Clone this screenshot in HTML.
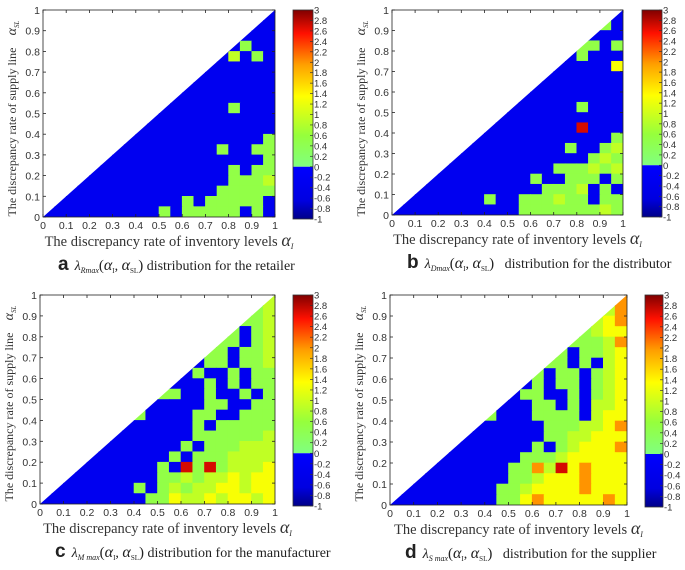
<!DOCTYPE html>
<html><head><meta charset="utf-8"><style>
html,body{margin:0;padding:0;background:#fff;}
svg{display:block;}
</style></head><body>
<svg id="fig" width="685" height="570" xmlns="http://www.w3.org/2000/svg"></svg>
<script>
// value represented by each code in the grids
const codeValues = [-0.5, 0.5, 0.9, 1.3, 2.0, 2.7];
const xTicks = [0,0.1,0.2,0.3,0.4,0.5,0.6,0.7,0.8,0.9,1];
const yTicks = [0,0.1,0.2,0.3,0.4,0.5,0.6,0.7,0.8,0.9,1];
const cbTicks = [3,2.8,2.6,2.4,2.2,2,1.8,1.6,1.4,1.2,1,0.8,0.6,0.4,0.2,0,-0.2,-0.4,-0.6,-0.8,-1];
// rows from alpha_SL 0.95-1 (top) down to 0-0.05; columns alpha_I 0..0.95
const gridA = ["00000000000000000000","00000000000000000000","00000000000000000000","00000000000000000100","00000000000000002010","00000000000000000000","00000000000000000000","00000000000000000000","00000000000000000000","00000000000000001000","00000000000000000000","00000000000000000000","00000000000000000001","00000000000000010011","00000000000000000001","00000000000000001011","00000000000000001112","00000000000000011111","00000000000010111110","00000000001011111010"];
const gridB = ["00000000000000000000","00000000000000000010","00000000000000000000","00000000000000001101","00000000000000001000","00000000000000000003","00000000000000000000","00000000000000000000","00000000000000000000","00000000000000001000","00000000000000000000","00000000000000005000","00000000000000000001","00000000000000010012","00000000000000000121","00000000000000111212","00000000000010011101","00000000000001112010","00000000100111211011","00000000000111111121"];
const gridC = ["00000000000000000002","00000000000000000012","00000000000000000112","00000000000000001012","00000000000000011012","00000000000000110112","00000000000000110112","00000000000001001011","00000000000000101011","00000000001100100101","00000000000000110011","00000000100001100111","00000000000001011111","00000000000001111112","00000000000010111222","00000000000101112222","00000000001051512223","00000000001121223233","00000000101212233233","00000000011322323323"];
const gridD = ["00000000000000000004","00000000000000000024","00000000000000000234","00000000000000001233","00000000000000011124","00000000000000101123","00000000000001101023","00000000000010110123","00000000000010110123","00000000000110010123","00000000000011010223","00000000100011110233","00000000000001112234","00000000000001122333","00000000000010123334","00000000000111233333","00000000001142534333","00000000001123334333","00000000011233334333","00000000011343333343"];

const NS="http://www.w3.org/2000/svg";
const svg=document.getElementById('fig');
function mk(tag,attrs,parent){const e=document.createElementNS(NS,tag);for(const k in attrs)e.setAttribute(k,attrs[k]);(parent||svg).appendChild(e);return e;}
const stops=[[0,[128,255,128]],[0.2,[150,255,60]],[0.45,[255,255,0]],[0.65,[255,160,0]],[0.85,[255,16,0]],[1,[128,0,0]]];
function colorOf(v){
  if(v<0) return '#0000f0';
  const t=Math.min(1,v/3);
  for(let i=1;i<stops.length;i++){if(t<=stops[i][0]){const a=stops[i-1],b=stops[i];const f=(t-a[0])/(b[0]-a[0]);const c=a[1].map((q,j)=>Math.round(q+(b[1][j]-q)*f));return `rgb(${c[0]},${c[1]},${c[2]})`;}}
  return 'rgb(128,0,0)';
}
const panels=[
 {id:'a',grid:gridA,x0:43,x1:275,y0:10,y1:217,cb:293,cbw:20,sub:'Rmax',tail:' distribution for the retailer'},
 {id:'b',grid:gridB,x0:392,x1:623,y0:10,y1:215,cb:642,cbw:20,sub:'Dmax',tail:'   distribution for the distributor'},
 {id:'c',grid:gridC,x0:40,x1:275,y0:295,y1:504,cb:293,cbw:20,sub:'M max',tail:' distribution for the manufacturer'},
 {id:'d',grid:gridD,x0:390,x1:627,y0:295,y1:505,cb:645,cbw:18,sub:'S max',tail:'   distribution for the supplier'}
];
panels.forEach(p=>{
  const g=mk('g',{});
  
  
  const sx=v=>p.x0+v*(p.x1-p.x0), sy=v=>p.y1-v*(p.y1-p.y0);
  const defs=mk('defs',{},g);
  const cp=mk('clipPath',{id:'clip'+p.id},defs);
  mk('polygon',{points:`${sx(0)},${sy(0)} ${sx(1)},${sy(0)} ${sx(1)},${sy(1)}`},cp);
  const hm=mk('g',{'clip-path':`url(#clip${p.id})`},g);
  
  
  const n=p.grid.length;
  p.grid.forEach((row,r)=>{
    const ylo=(n-1-r)/n, yhi=(n-r)/n;
    for(let c=0;c<row.length;c++){
      const xlo=c/row.length, xhi=(c+1)/row.length;
      const v=codeValues[+row[c]];
      const rc=mk('rect',{x:sx(xlo)-0.3,y:sy(yhi)-0.3,width:sx(xhi)-sx(xlo)+0.6,height:sy(ylo)-sy(yhi)+0.6,fill:colorOf(v)},hm);
      
      
    }
  });
  mk('rect',{x:p.x0,y:p.y0,width:p.x1-p.x0,height:p.y1-p.y0,fill:'none',stroke:'#222','stroke-width':0.8},g);
  xTicks.forEach(t=>{
    mk('line',{x1:sx(t),x2:sx(t),y1:p.y1,y2:p.y1-3,stroke:'#222','stroke-width':0.8},g);
    mk('line',{x1:sx(t),x2:sx(t),y1:p.y0,y2:p.y0+3,stroke:'#222','stroke-width':0.8},g);
    const tx=mk('text',{x:sx(t),y:p.y1+12,'text-anchor':'middle','font-size':10.5,fill:'#333','font-family':'Liberation Sans, sans-serif'},g);
    tx.textContent=t;
    
    
  });
  yTicks.forEach(t=>{
    mk('line',{x1:p.x0,x2:p.x0+3,y1:sy(t),y2:sy(t),stroke:'#222','stroke-width':0.8},g);
    mk('line',{x1:p.x1,x2:p.x1-3,y1:sy(t),y2:sy(t),stroke:'#222','stroke-width':0.8},g);
    const tx=mk('text',{x:p.x0-3,y:sy(t)+4,'text-anchor':'end','font-size':10.5,fill:'#333','font-family':'Liberation Sans, sans-serif'},g);
    tx.textContent=t;
    
    
  });
  const cy=p.y0+122;
  const yt=mk('text',{x:0,y:0,transform:`translate(${p.x0-27},${cy}) rotate(-90)`,'text-anchor':'middle','font-size':12,fill:'#333','font-family':'Liberation Serif, serif'},g);
  yt.textContent='The discrepancy rate of supply line';
  
  
  const ya=mk('text',{x:0,y:0,transform:`translate(${p.x0-27},${p.y0+18}) rotate(-90)`,'text-anchor':'middle','font-size':14,'font-style':'italic',fill:'#333','font-family':'Liberation Serif, serif'},g);
  ya.innerHTML='α<tspan font-size="7" dy="3">SL</tspan>';
  
  
  const xt=mk('text',{x:(p.x0+p.x1)/2+10,y:p.y1+29,'text-anchor':'middle','font-size':14.5,fill:'#333','font-family':'Liberation Serif, serif'},g);
  xt.innerHTML='The discrepancy rate of inventory levels <tspan font-style="italic" font-size="18">α</tspan><tspan font-style="italic" font-size="8" dy="3">I</tspan>';
  
  
  // colorbar
  const cbg=mk('g',{},g);
  
  
  const cv=v=>p.y1+2-(v+1)/4*(p.y1+2-p.y0);
  const gid='grad'+p.id;
  const lg=mk('linearGradient',{id:gid,x1:0,y1:1,x2:0,y2:0},defs);
  stops.forEach(s=>mk('stop',{offset:s[0],'stop-color':`rgb(${s[1].join(',')})`},lg));
  const bg='bgrad'+p.id;
  const lb=mk('linearGradient',{id:bg,x1:0,y1:1,x2:0,y2:0},defs);
  mk('stop',{offset:0,'stop-color':'#000088'},lb);mk('stop',{offset:0.35,'stop-color':'#0000e0'},lb);mk('stop',{offset:1,'stop-color':'#0000ff'},lb);
  mk('rect',{x:p.cb,y:cv(3),width:p.cbw,height:cv(0)-cv(3),fill:`url(#${gid})`},cbg);
  mk('rect',{x:p.cb,y:cv(0),width:p.cbw,height:cv(-1)-cv(0),fill:`url(#${bg})`},cbg);
  mk('rect',{x:p.cb,y:cv(3),width:p.cbw,height:cv(-1)-cv(3),fill:'none',stroke:'#333','stroke-width':0.8},cbg);
  cbTicks.forEach(t=>{
    mk('line',{x1:p.cb+p.cbw-3,x2:p.cb+p.cbw,y1:cv(t),y2:cv(t),stroke:'#333','stroke-width':0.7},cbg);
    const tx=mk('text',{x:p.cb+p.cbw+1,y:cv(t)+3.5,'font-size':9.5,fill:'#333','font-family':'Liberation Sans, sans-serif'},cbg);
    tx.textContent=t;
    
    
  });
  const cap=mk('text',{x:p.x0+15,y:p.y1+53,'font-size':14,fill:'#222','font-family':'Liberation Serif, serif'},g);
  cap.innerHTML=`<tspan font-family="Liberation Sans, sans-serif" font-weight="bold" font-size="19">${p.id}</tspan><tspan dx="6" font-style="italic">λ</tspan><tspan font-style="italic" font-size="8" dy="3">${p.sub}</tspan><tspan dy="-3" font-size="15">(</tspan><tspan font-style="italic" font-size="16">α</tspan><tspan font-size="7" dy="3">I</tspan><tspan dy="-3">, </tspan><tspan font-style="italic" font-size="16">α</tspan><tspan font-size="7" dy="3">SL</tspan><tspan dy="-3" font-size="15">)</tspan><tspan>${p.tail.replace(/ /g,'\u00a0')}</tspan>`;
  
  
});
</script>
</body></html>
